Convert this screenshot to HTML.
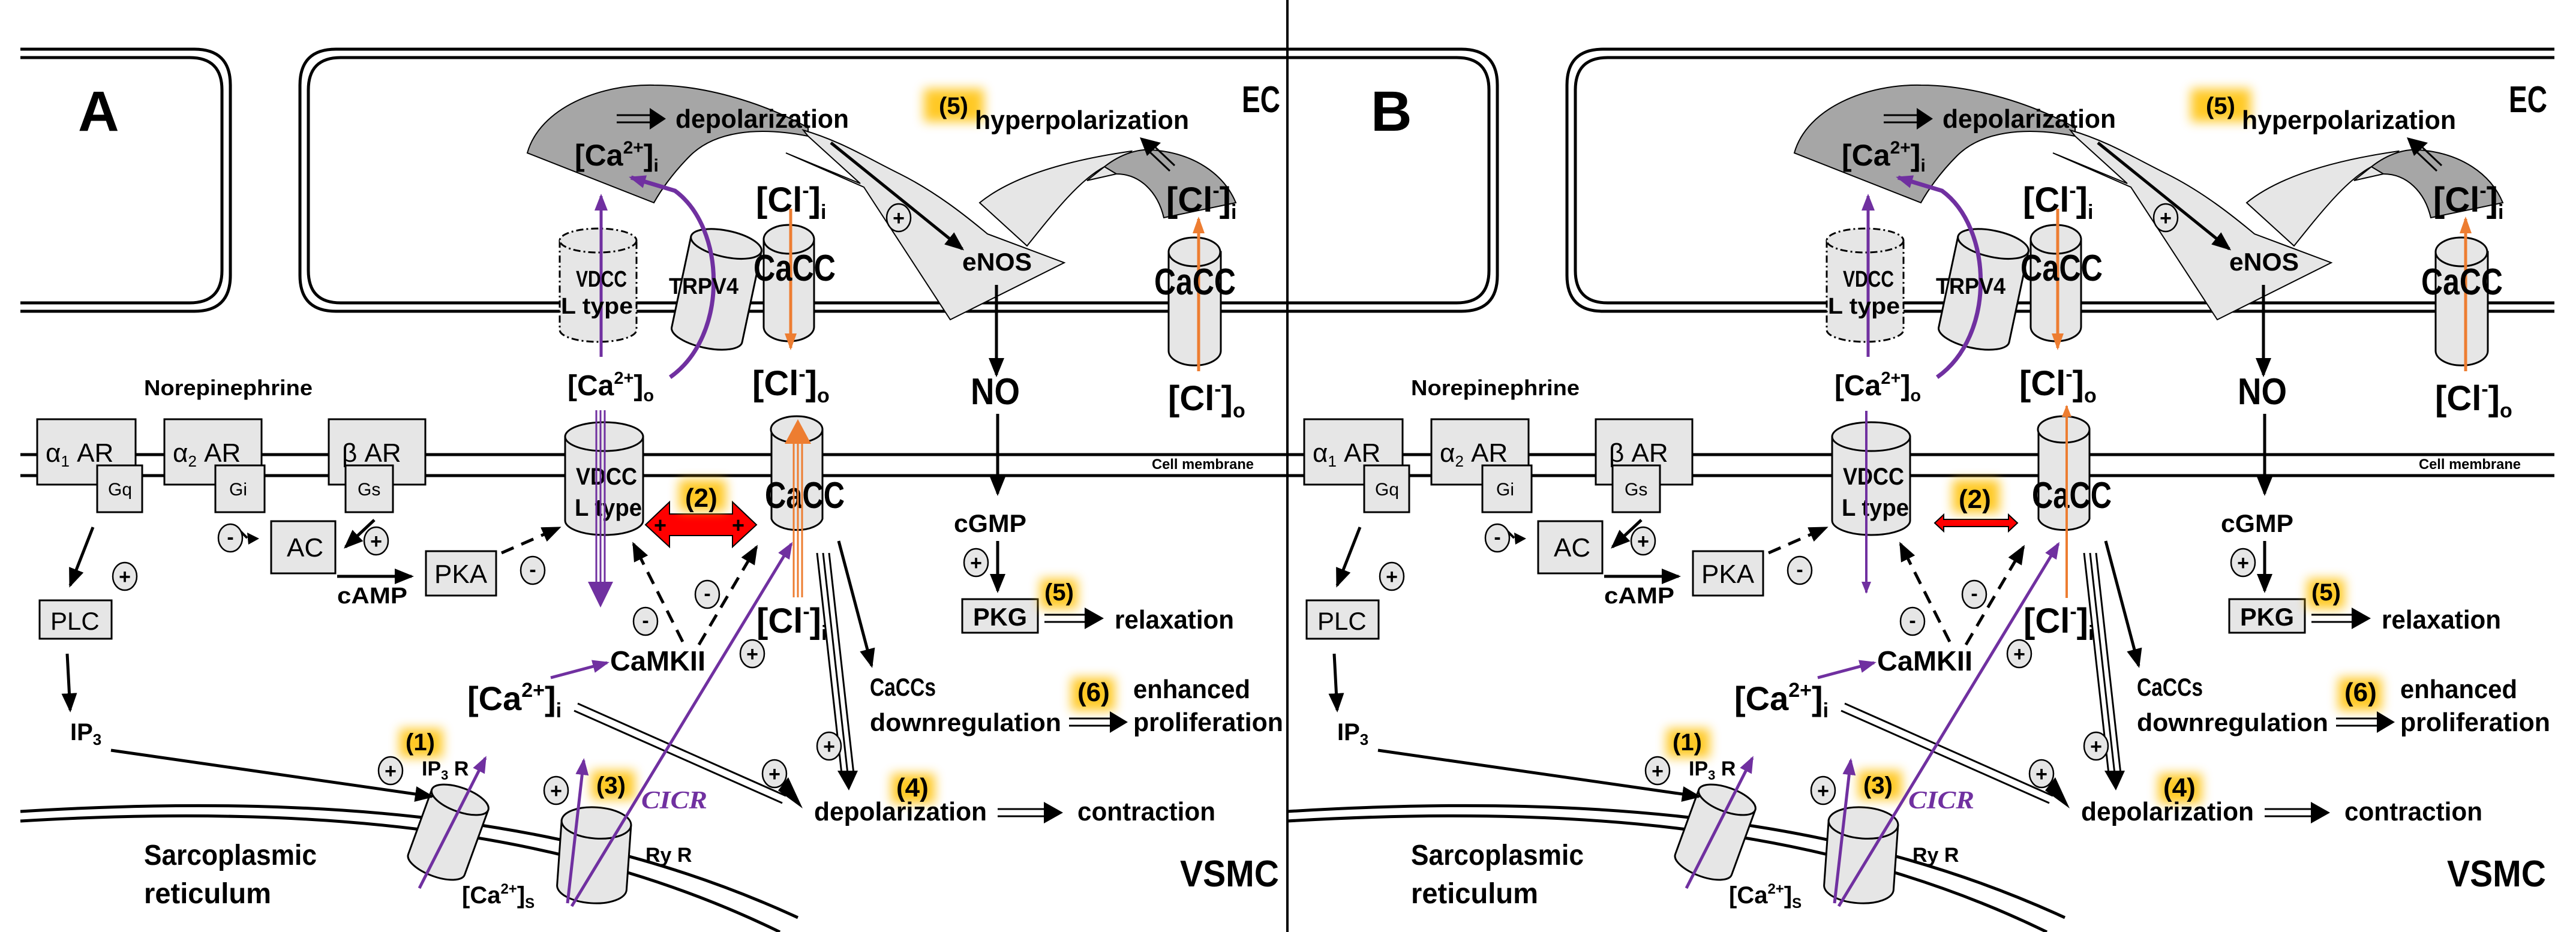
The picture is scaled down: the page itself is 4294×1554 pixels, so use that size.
<!DOCTYPE html>
<html><head><meta charset="utf-8">
<style>
html,body{margin:0;padding:0;background:#fff;}
svg{display:block;}
text{font-family:"Liberation Sans Narrow","Liberation Sans",sans-serif;font-weight:bold;fill:#000;}
.n{font-weight:normal;}
</style></head>
<body>
<svg width="4294" height="1554" viewBox="0 0 4294 1554" xmlns="http://www.w3.org/2000/svg">
<defs>
<filter id="glow" x="-50%" y="-50%" width="200%" height="200%"><feGaussianBlur stdDeviation="9"/></filter>
<marker id="hb" markerUnits="userSpaceOnUse" markerWidth="32" markerHeight="26" refX="28" refY="13" orient="auto"><path d="M0,0 L32,13 L0,26 z" fill="#000"/></marker>
<marker id="hp" markerUnits="userSpaceOnUse" markerWidth="28" markerHeight="22" refX="24" refY="11" orient="auto"><path d="M0,0 L28,11 L0,22 z" fill="#7030a0"/></marker>
<marker id="ho" markerUnits="userSpaceOnUse" markerWidth="28" markerHeight="20" refX="24" refY="10" orient="auto"><path d="M0,0 L28,10 L0,20 z" fill="#ed7d31"/></marker>
<marker id="hps" markerUnits="userSpaceOnUse" markerWidth="20" markerHeight="16" refX="18" refY="8" orient="auto"><path d="M0,0 L20,8 L0,16 z" fill="#7030a0"/></marker>
<marker id="hos" markerUnits="userSpaceOnUse" markerWidth="20" markerHeight="16" refX="18" refY="8" orient="auto"><path d="M0,0 L20,8 L0,16 z" fill="#ed7d31"/></marker>

<g id="panel">
<g fill="none" stroke="#000" stroke-width="5">
<path d="M34,82 H324 Q384,82 384,142 V459 Q384,519 324,519 H34"/>
<path d="M34,96 H316 Q370,96 370,150 V451 Q370,505 316,505 H34"/>
<path d="M2146,82 H560 Q500,82 500,142 V459 Q500,519 560,519 H2146"/>
<path d="M2146,96 H568 Q514,96 514,150 V451 Q514,505 568,505 H2146"/>
<line x1="34" y1="758" x2="2146" y2="758"/>
<line x1="34" y1="793" x2="2146" y2="793"/>
<path d="M34,1353 C600,1318 1000,1378 1330,1530"/>
<path d="M34,1369 C590,1336 980,1398 1300,1554"/>
</g>
<text x="1920" y="782" font-size="24" textLength="170" lengthAdjust="spacingAndGlyphs">Cell membrane</text>

<path d="M879,255 C900,180 1000,140 1090,142 C1180,142 1280,175 1347,213 L1347,227 C1260,210 1190,220 1150,260 C1120,290 1100,320 1090,338 Z" fill="#a6a6a6" stroke="#000" stroke-width="2"/>
<path d="M1339,217 C1400,235 1440,260 1500,290 C1560,320 1610,360 1646,390 L1774,438 L1584,533 L1440,312 L1310,255 L1434,306 L1347,227 Z" fill="#e6e6e6" stroke="#000" stroke-width="2"/>
<path d="M1633,338 C1680,300 1760,270 1886,252 L1861,290 L1812,301 L1841,278 C1800,300 1760,350 1712,410 Z" fill="#e6e6e6" stroke="#000" stroke-width="2"/>
<path d="M1841,278 C1870,255 1900,248 1920,250 C1990,255 2040,290 2060,338 L1940,363 C1930,320 1900,290 1861,290 Z" fill="#a6a6a6" stroke="#000" stroke-width="2"/>

<g stroke="#000" stroke-width="3" fill="#e6e6e6">
<path d="M933,401 V550 A64,20 0 0 0 1061,550 V401 Z" stroke-dasharray="12,5,3,5"/>
<ellipse cx="997" cy="401" rx="64" ry="20" stroke-dasharray="12,5,3,5"/>
<g transform="rotate(12,1195,480)">
<path d="M1135,405 V560 A60,22 0 0 0 1255,560 V405 Z"/>
<ellipse cx="1195" cy="405" rx="60" ry="22"/>
</g>
<path d="M1273,399 V545 A42,24 0 0 0 1357,545 V399 Z"/>
<ellipse cx="1315" cy="399" rx="42" ry="24"/>
<path d="M1948,420 V585 A43,24 0 0 0 2035,585 V420 Z"/>
<ellipse cx="1991" cy="420" rx="43" ry="24"/>
<path d="M942,728 V868 A65,24 0 0 0 1072,868 V728 Z"/>
<ellipse cx="1007" cy="728" rx="65" ry="24"/>
<path d="M1286,716 V865 A43,22 0 0 0 1371,865 V716 Z"/>
<ellipse cx="1328" cy="716" rx="43" ry="22"/>
<g transform="rotate(20,747,1388)">
<path d="M697,1330 V1445 A50,20 0 0 0 797,1445 V1330 Z"/>
<ellipse cx="747" cy="1330" rx="50" ry="20"/>
</g>
<g transform="rotate(4,990,1430)">
<path d="M932,1372 V1480 A58,26 0 0 0 1048,1480 V1372 Z"/>
<ellipse cx="990" cy="1372" rx="58" ry="26"/>
</g>
</g>

<g fill="#e6e6e6" stroke="#000" stroke-width="3">
<rect x="62" y="699" width="164" height="109"/>
<rect x="162" y="776" width="75" height="78"/>
<rect x="274" y="699" width="162" height="109"/>
<rect x="359" y="776" width="82" height="78"/>
<rect x="548" y="699" width="161" height="109"/>
<rect x="576" y="776" width="79" height="78"/>
<rect x="452" y="869" width="107" height="87"/>
<rect x="710" y="919" width="117" height="74"/>
<rect x="66" y="1001" width="120" height="64"/>
<rect x="1604" y="999" width="126" height="56"/>
</g>

<g fill="#ffc000" filter="url(#glow)" opacity="0.85">
<rect x="1540" y="148" width="100" height="55"/>
<rect x="1786" y="1130" width="72" height="55"/>
<rect x="1734" y="965" width="62" height="50"/>
<rect x="1486" y="1290" width="72" height="50"/>
<rect x="666" y="1215" width="72" height="48"/>
<rect x="986" y="1285" width="72" height="48"/>
</g>

<g stroke="#000" stroke-width="5" fill="none">
<line x1="1385" y1="238" x2="1604" y2="415" marker-end="url(#hb)"/>
<line x1="1661" y1="475" x2="1661" y2="625" marker-end="url(#hb)"/>
<line x1="1663" y1="690" x2="1663" y2="823" marker-end="url(#hb)"/>
<line x1="1663" y1="902" x2="1663" y2="985" marker-end="url(#hb)"/>
<line x1="155" y1="879" x2="117" y2="976" marker-end="url(#hb)"/>
<line x1="112" y1="1090" x2="117" y2="1184" marker-end="url(#hb)"/>
<line x1="185" y1="1251" x2="720" y2="1328" marker-end="url(#hb)"/>
<line x1="624" y1="867" x2="576" y2="912" marker-end="url(#hb)"/>
<line x1="562" y1="961" x2="686" y2="961" marker-end="url(#hb)"/>
<line x1="1398" y1="902" x2="1453" y2="1110" marker-end="url(#hb)"/>
<g stroke-dasharray="22,14">
<line x1="836" y1="922" x2="932" y2="880" marker-end="url(#hb)"/>
<line x1="1138" y1="1070" x2="1056" y2="907" marker-end="url(#hb)"/>
<line x1="1165" y1="1075" x2="1261" y2="912" marker-end="url(#hb)"/>
</g>
<g stroke-width="3">
<line x1="1362" y1="922" x2="1403" y2="1290"/>
<line x1="1372" y1="922" x2="1413" y2="1290"/>
<line x1="1382" y1="922" x2="1423" y2="1290"/>
<line x1="963" y1="1173" x2="1310" y2="1327"/>
<line x1="957" y1="1185" x2="1304" y2="1339"/>
<line x1="1028" y1="192" x2="1085" y2="192"/><line x1="1028" y1="204" x2="1085" y2="204"/>
<line x1="1741" y1="1025" x2="1810" y2="1025"/><line x1="1741" y1="1037" x2="1810" y2="1037"/>
<line x1="1663" y1="1349" x2="1742" y2="1349"/><line x1="1663" y1="1361" x2="1742" y2="1361"/>
<line x1="1782" y1="1198" x2="1852" y2="1198"/><line x1="1782" y1="1210" x2="1852" y2="1210"/>
<line x1="1958" y1="276" x2="1922" y2="242"/><line x1="1950" y1="285" x2="1914" y2="251"/>
</g>
</g>
<g fill="#000">
<path d="M1396,1285 L1430,1285 L1415,1318 Z"/>
<path d="M1297,1318 L1314,1296 L1338,1348 Z"/>
<path d="M1083,180 L1110,198 L1083,216 Z"/>
<path d="M1808,1013 L1840,1031 L1808,1049 Z"/>
<path d="M1740,1337 L1772,1355 L1740,1373 Z"/>
<path d="M1850,1186 L1880,1204 L1850,1222 Z"/>
<path d="M1900,229 L1935,238 L1912,260 Z"/>
<path d="M412,888 L432,898 L414,908 Z"/>
</g>
<line x1="395" y1="880" x2="412" y2="897" stroke="#000" stroke-width="4"/>

<g stroke="#7030a0" stroke-width="5" fill="none">
<line x1="1002" y1="595" x2="1002" y2="327" marker-end="url(#hp)"/>
<path d="M1117,629 C1215,560 1210,380 1125,318 L1052,296" stroke-width="7" marker-end="url(#hp)"/>
<line x1="918" y1="1130" x2="1012" y2="1105" marker-end="url(#hp)"/>
<line x1="953" y1="1511" x2="1319" y2="907" marker-end="url(#hp)"/>
<line x1="699" y1="1481" x2="809" y2="1264" marker-end="url(#hp)"/>
<line x1="946" y1="1506" x2="973" y2="1268" marker-end="url(#hp)"/>
</g>
<g stroke="#ed7d31" stroke-width="5" fill="none">
<line x1="1318" y1="348" x2="1318" y2="580" marker-end="url(#ho)"/>
<line x1="1998" y1="619" x2="1998" y2="365" marker-end="url(#ho)"/>
</g>

<g fill="#e6e6e6" stroke="#000" stroke-width="2.5">
<ellipse cx="1498" cy="363" rx="20" ry="23"/>
<ellipse cx="208" cy="961" rx="20" ry="23"/>
<ellipse cx="627" cy="902" rx="20" ry="23"/>
<ellipse cx="384" cy="897" rx="20" ry="23"/>
<ellipse cx="888" cy="951" rx="20" ry="23"/>
<ellipse cx="1076" cy="1036" rx="20" ry="23"/>
<ellipse cx="1179" cy="991" rx="20" ry="23"/>
<ellipse cx="1254" cy="1090" rx="20" ry="23"/>
<ellipse cx="1382" cy="1244" rx="20" ry="23"/>
<ellipse cx="1291" cy="1290" rx="20" ry="23"/>
<ellipse cx="1627" cy="938" rx="20" ry="23"/>
<ellipse cx="651" cy="1285" rx="20" ry="23"/>
<ellipse cx="927" cy="1318" rx="20" ry="23"/>
</g>
<g font-size="34" text-anchor="middle" style="font-family:'Liberation Sans',sans-serif;font-weight:normal">
<text x="1498" y="375">+</text><text x="208" y="973">+</text><text x="627" y="914">+</text>
<text x="384" y="907">-</text><text x="888" y="961">-</text><text x="1076" y="1046">-</text><text x="1179" y="1001">-</text>
<text x="1254" y="1102">+</text><text x="1382" y="1256">+</text><text x="1291" y="1302">+</text>
<text x="1627" y="950">+</text><text x="651" y="1297">+</text><text x="927" y="1330">+</text>
</g>

<text x="2070" y="187" font-size="62" textLength="64" lengthAdjust="spacingAndGlyphs">EC</text>
<text x="1967" y="1478" font-size="62" textLength="165" lengthAdjust="spacingAndGlyphs">VSMC</text>
<text x="1126" y="213" font-size="44" textLength="289" lengthAdjust="spacingAndGlyphs">depolarization</text>
<text x="958" y="276" font-size="50">[Ca<tspan font-size="30" dy="-20">2+</tspan><tspan font-size="50" dy="20">]</tspan><tspan font-size="30" dy="10">i</tspan></text>
<text x="1565" y="190" font-size="40">(5)</text>
<text x="1625" y="215" font-size="44" textLength="357" lengthAdjust="spacingAndGlyphs">hyperpolarization</text>
<text x="1260" y="353" font-size="58">[Cl<tspan font-size="34" dy="-24">-</tspan><tspan font-size="58" dy="24">]</tspan><tspan font-size="34" dy="12">i</tspan></text>
<text x="1944" y="353" font-size="58">[Cl<tspan font-size="34" dy="-24">-</tspan><tspan font-size="58" dy="24">]</tspan><tspan font-size="34" dy="12">i</tspan></text>
<text x="1604" y="451" font-size="42" textLength="116" lengthAdjust="spacingAndGlyphs">eNOS</text>
<text x="1115" y="490" font-size="38" textLength="116" lengthAdjust="spacingAndGlyphs">TRPV4</text>
<text x="960" y="478" font-size="38" textLength="85" lengthAdjust="spacingAndGlyphs">VDCC</text>
<text x="935" y="523" font-size="38" textLength="120" lengthAdjust="spacingAndGlyphs">L type</text>
<text x="1256" y="468" font-size="62" textLength="137" lengthAdjust="spacingAndGlyphs">CaCC</text>
<text x="1924" y="491" font-size="62" textLength="136" lengthAdjust="spacingAndGlyphs">CaCC</text>
<text x="240" y="659" font-size="36" textLength="281" lengthAdjust="spacingAndGlyphs">Norepinephrine</text>
<text x="946" y="659" font-size="48">[Ca<tspan font-size="29" dy="-19">2+</tspan><tspan font-size="48" dy="19">]</tspan><tspan font-size="29" dy="10">o</tspan></text>
<text x="1254" y="659" font-size="58">[Cl<tspan font-size="34" dy="-24">-</tspan><tspan font-size="58" dy="24">]</tspan><tspan font-size="34" dy="12">o</tspan></text>
<text x="1618" y="674" font-size="62" textLength="82" lengthAdjust="spacingAndGlyphs">NO</text>
<text x="1947" y="684" font-size="58">[Cl<tspan font-size="34" dy="-24">-</tspan><tspan font-size="58" dy="24">]</tspan><tspan font-size="34" dy="12">o</tspan></text>
<g font-size="44">
<text x="76" y="770" class="n">α<tspan font-size="26" dy="8">1</tspan><tspan dy="-8"> AR</tspan></text>
<text x="288" y="770" class="n">α<tspan font-size="26" dy="8">2</tspan><tspan dy="-8"> AR</tspan></text>
<text x="570" y="770" class="n">β AR</text>
<text x="478" y="928" class="n">AC</text>
<text x="724" y="972" class="n">PKA</text>
<text x="84" y="1050" class="n" font-size="42">PLC</text>
</g>
<g font-size="30">
<text x="180" y="826" class="n">Gq</text>
<text x="382" y="826" class="n">Gi</text>
<text x="596" y="826" class="n">Gs</text>
</g>
<text x="960" y="808" font-size="40" textLength="102" lengthAdjust="spacingAndGlyphs">VDCC</text>
<text x="958" y="860" font-size="40" textLength="112" lengthAdjust="spacingAndGlyphs">L type</text>
<text x="1275" y="847" font-size="62" textLength="133" lengthAdjust="spacingAndGlyphs">CaCC</text>
<text x="562" y="1006" font-size="38" textLength="117" lengthAdjust="spacingAndGlyphs">cAMP</text>
<text x="117" y="1234" font-size="40">IP<tspan font-size="26" dy="8">3</tspan></text>
<text x="1017" y="1118" font-size="46" textLength="159" lengthAdjust="spacingAndGlyphs">CaMKII</text>
<text x="779" y="1184" font-size="56">[Ca<tspan font-size="34" dy="-22">2+</tspan><tspan font-size="56" dy="22">]</tspan><tspan font-size="34" dy="12">i</tspan></text>
<text x="1261" y="1055" font-size="58">[Cl<tspan font-size="34" dy="-24">-</tspan><tspan font-size="58" dy="24">]</tspan><tspan font-size="34" dy="12">i</tspan></text>
<text x="1069" y="1348" font-size="42" textLength="110" lengthAdjust="spacingAndGlyphs" style="font-family:'Liberation Serif',serif;font-style:italic;fill:#7030a0">CICR</text>
<text x="1450" y="1160" font-size="42" textLength="110" lengthAdjust="spacingAndGlyphs">CaCCs</text>
<text x="1450" y="1219" font-size="42" textLength="319" lengthAdjust="spacingAndGlyphs">downregulation</text>
<text x="1796" y="1169" font-size="44">(6)</text>
<text x="1889" y="1164" font-size="44" textLength="195" lengthAdjust="spacingAndGlyphs">enhanced</text>
<text x="1889" y="1219" font-size="44" textLength="250" lengthAdjust="spacingAndGlyphs">proliferation</text>
<text x="1590" y="887" font-size="42" textLength="121" lengthAdjust="spacingAndGlyphs">cGMP</text>
<text x="1622" y="1043" font-size="42" textLength="90" lengthAdjust="spacingAndGlyphs">PKG</text>
<text x="1741" y="1001" font-size="40">(5)</text>
<text x="1858" y="1048" font-size="44" textLength="199" lengthAdjust="spacingAndGlyphs">relaxation</text>
<text x="1494" y="1328" font-size="44">(4)</text>
<text x="1357" y="1368" font-size="44" textLength="288" lengthAdjust="spacingAndGlyphs">depolarization</text>
<text x="1796" y="1368" font-size="44" textLength="230" lengthAdjust="spacingAndGlyphs">contraction</text>
<text x="676" y="1251" font-size="40">(1)</text>
<text x="703" y="1293" font-size="34">IP<tspan font-size="22" dy="7">3</tspan><tspan dy="-7"> R</tspan></text>
<text x="994" y="1323" font-size="40">(3)</text>
<text x="1076" y="1437" font-size="34">Ry R</text>
<text x="770" y="1506" font-size="40">[Ca<tspan font-size="24" dy="-16">2+</tspan><tspan font-size="40" dy="16">]</tspan><tspan font-size="24" dy="8">S</tspan></text>
<text x="240" y="1442" font-size="48" textLength="288" lengthAdjust="spacingAndGlyphs">Sarcoplasmic</text>
<text x="240" y="1506" font-size="48" textLength="212" lengthAdjust="spacingAndGlyphs">reticulum</text>
</g>
</defs>

<rect width="4294" height="1554" fill="#fff"/>
<use href="#panel"/>
<use href="#panel" transform="translate(2112,0)"/>
<line x1="2146" y1="0" x2="2146" y2="1554" stroke="#000" stroke-width="4"/>

<text x="130" y="218" font-size="95" style="font-family:'Liberation Sans',sans-serif">A</text>
<g stroke="#7030a0" stroke-width="3">
<line x1="994" y1="684" x2="994" y2="975"/><line x1="1001" y1="684" x2="1001" y2="975"/><line x1="1008" y1="684" x2="1008" y2="975"/>
</g>
<path d="M980,970 L1022,970 L1001,1013 Z" fill="#7030a0"/>
<g stroke="#ed7d31" stroke-width="3">
<line x1="1323" y1="996" x2="1323" y2="730"/><line x1="1330" y1="996" x2="1330" y2="730"/><line x1="1337" y1="996" x2="1337" y2="730"/>
</g>
<path d="M1308,740 L1352,740 L1330,699 Z" fill="#ed7d31"/>
<path d="M1076,875 L1116,837 L1116,857 L1221,857 L1221,837 L1261,875 L1221,912 L1221,893 L1116,893 L1116,912 Z" fill="#ff0000" stroke="#000" stroke-width="2"/>
<text x="1090" y="888" font-size="36" style="font-family:'Liberation Sans',sans-serif">+</text>
<text x="1220" y="888" font-size="36" style="font-family:'Liberation Sans',sans-serif">+</text>
<rect x="1132" y="800" width="78" height="52" fill="#ffc000" filter="url(#glow)" opacity="0.85"/>
<text x="1142" y="845" font-size="44">(2)</text>

<text x="2285" y="218" font-size="95" style="font-family:'Liberation Sans',sans-serif">B</text>
<line x1="3111" y1="685" x2="3111" y2="988" stroke="#7030a0" stroke-width="4" marker-end="url(#hps)"/>
<line x1="3445" y1="997" x2="3445" y2="677" stroke="#ed7d31" stroke-width="4" marker-end="url(#hos)"/>
<path d="M3225,872 L3240,858 L3240,866 L3348,866 L3348,858 L3363,872 L3348,886 L3348,878 L3240,878 L3240,886 Z" fill="#ff0000" stroke="#000" stroke-width="2"/>
<rect x="3255" y="800" width="78" height="55" fill="#ffc000" filter="url(#glow)" opacity="0.85"/>
<text x="3265" y="847" font-size="44">(2)</text>
</svg>
</body></html>
